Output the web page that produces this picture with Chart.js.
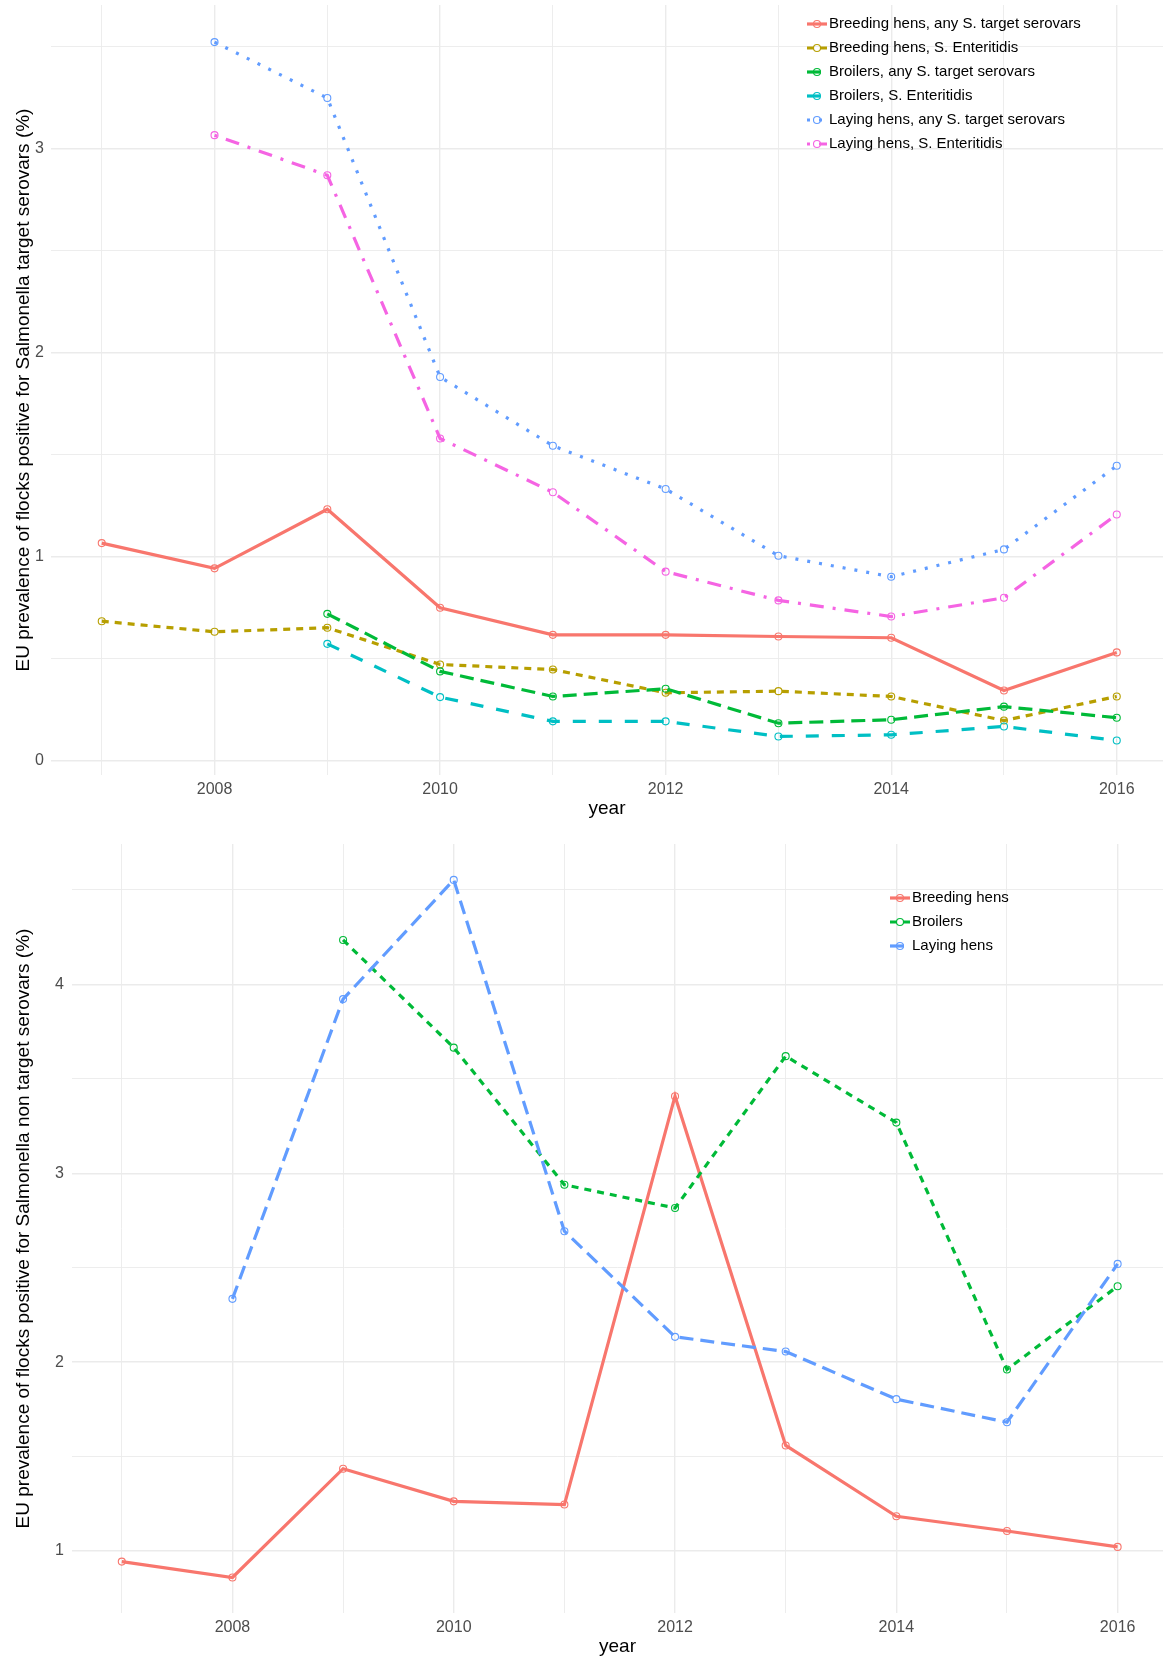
<!DOCTYPE html>
<html lang="en">
<head>
<meta charset="UTF-8" />
<title>EU prevalence of Salmonella in poultry flocks</title>
<script src="https://cdn.jsdelivr.net/npm/chart.js@4.4.1/dist/chart.umd.min.js"></script>
<style>
  html, body { margin: 0; padding: 0; background: #fff; overflow: hidden; }
  canvas { display: block; }
</style>
</head>
<body>
<canvas id="targetChart" width="1163" height="820"></canvas>
<canvas id="nonTargetChart" width="1163" height="838"></canvas>
<script>
// years on the x axis, even ones get a label
var years = [2007, 2008, 2009, 2010, 2011, 2012, 2013, 2014, 2015, 2016];
var yearLabels = ["", "2008", "", "2010", "", "2012", "", "2014", "", "2016"];

// top panel: target serovars (%)
var targetNames = [
  "Breeding hens, any S. target serovars",
  "Breeding hens, S. Enteritidis",
  "Broilers, any S. target serovars",
  "Broilers, S. Enteritidis",
  "Laying hens, any S. target serovars",
  "Laying hens, S. Enteritidis"
];
var breedingAnyTarget = [1.067, 0.943, 1.233, 0.750, 0.617, 0.617, 0.609, 0.603, 0.344, 0.531];
var breedingEnteritidis = [0.684, 0.632, 0.652, 0.472, 0.447, 0.333, 0.341, 0.315, 0.197, 0.315];
var broilersAnyTarget = [null, null, 0.720, 0.438, 0.315, 0.353, 0.184, 0.201, 0.265, 0.211];
var broilersEnteritidis = [null, null, 0.573, 0.312, 0.193, 0.193, 0.119, 0.127, 0.168, 0.099];
var layingAnyTarget = [null, 3.523, 3.249, 1.881, 1.544, 1.332, 1.005, 0.902, 1.036, 1.446];
var layingEnteritidis = [null, 3.067, 2.870, 1.580, 1.316, 0.927, 0.786, 0.707, 0.799, 1.207];
var targetTicks = [0, 0.5, 1, 1.5, 2, 2.5, 3, 3.5];

// bottom panel: non target serovars (%)
var nonTargetNames = ["Breeding hens", "Broilers", "Laying hens"];
var breedingNonTarget = [0.944, 0.860, 1.436, 1.263, 1.246, 3.408, 1.559, 1.184, 1.106, 1.022];
var broilersNonTarget = [null, null, 4.235, 3.665, 2.939, 2.816, 3.620, 3.268, 1.961, 2.402];
var layingNonTarget = [null, 2.335, 3.922, 4.553, 2.693, 2.134, 2.056, 1.804, 1.682, 2.520];
var nonTargetTicks = [1, 1.5, 2, 2.5, 3, 3.5, 4, 4.5];

var font = "'Liberation Sans', Arial, sans-serif";
Chart.defaults.font.family = font;

// ggplot default hues + linetypes
var hue6 = ["#F8766D", "#B79F00", "#00BA38", "#00BFC4", "#619CFF", "#F564E3"];
var hue3 = ["#F8766D", "#00BA38", "#619CFF"];
var dashes = [[], [7, 6], [14, 7], [13, 13], [3, 9], [3, 9, 14, 9]];

// draws the legend inside the plot, like ggplot does
var ggLegend = {
  id: "ggLegend",
  afterDraw: function (chart, args, opts) {
    var ctx = chart.ctx;
    ctx.save();
    ctx.font = "15px " + font;
    ctx.textBaseline = "middle";
    chart.data.datasets.forEach(function (ds, i) {
      var y = opts.y + i * opts.rowH;
      ctx.strokeStyle = ds.borderColor;
      ctx.lineWidth = ds.borderWidth;
      ctx.setLineDash(ds.borderDash);
      ctx.beginPath();
      ctx.moveTo(opts.x, y);
      ctx.lineTo(opts.x + 20, y);
      ctx.stroke();
      ctx.setLineDash([]);
      ctx.lineWidth = 1.1;
      ctx.beginPath();
      ctx.arc(opts.x + 10, y, 3.5, 0, Math.PI * 2);
      ctx.stroke();
      ctx.fillStyle = "#000";
      ctx.fillText(ds.label, opts.x + 22, y);
    });
    ctx.restore();
  }
};

function makeChart(id, names, series, colors, s) {
  var datasets = series.map(function (vals, i) {
    var pts = [];
    vals.forEach(function (v, j) {
      if (v !== null) pts.push({ x: years[j], y: v });
    });
    return {
      label: names[i],
      data: pts,
      borderColor: colors[i],
      borderWidth: 3.2,
      borderDash: dashes[i],
      pointRadius: 3.5,
      pointBorderWidth: 1.1,
      pointBorderColor: colors[i],
      pointBackgroundColor: "rgba(0,0,0,0)",
      tension: 0,
      order: series.length - i
    };
  });

  return new Chart(document.getElementById(id), {
    type: "line",
    data: { datasets: datasets },
    plugins: [ggLegend],
    options: {
      responsive: false,
      animation: false,
      layout: { autoPadding: false, padding: { top: s.padTop, left: 0, right: 0, bottom: 0 } },
      plugins: {
        legend: { display: false },
        tooltip: { enabled: false },
        ggLegend: s.legend
      },
      scales: {
        x: {
          type: "linear",
          min: 2006.55,
          max: 2016.41,
          afterBuildTicks: function (sc) {
            sc.ticks = years.map(function (v) { return { value: v }; });
          },
          afterFit: function (sc) {
            sc.height = 45;
            sc.paddingLeft = 0;
            sc.paddingRight = 0;
          },
          grid: {
            color: "#EBEBEB",
            drawTicks: false,
            lineWidth: function (c) { return c.tick && c.tick.value % 2 === 0 ? 1.4 : 0.9; }
          },
          border: { display: false },
          ticks: {
            padding: 5,
            color: "#4D4D4D",
            font: { size: 16 },
            maxRotation: 0,
            autoSkip: false,
            callback: function (v) { return yearLabels[years.indexOf(v)]; }
          },
          title: {
            display: true,
            text: "year",
            color: "#000",
            font: { size: 19 },
            padding: { top: 0, bottom: 0 }
          }
        },
        y: {
          min: s.yMin,
          max: s.yMax,
          afterBuildTicks: function (sc) {
            sc.ticks = s.ticks.map(function (v) { return { value: v }; });
          },
          afterFit: function (sc) {
            sc.width = s.axisW;
            sc.paddingTop = 0;
            sc.paddingBottom = 0;
          },
          grid: {
            color: "#EBEBEB",
            drawTicks: false,
            lineWidth: function (c) { return c.tick && Number.isInteger(c.tick.value) ? 1.4 : 0.9; }
          },
          border: { display: false },
          ticks: {
            padding: s.tickPad,
            color: "#4D4D4D",
            font: { size: 16 },
            callback: function (v) { return Number.isInteger(v) ? String(v) : ""; }
          },
          title: {
            display: true,
            text: s.title,
            color: "#000",
            font: { size: 19 },
            padding: { top: 12, bottom: 0 }
          }
        }
      }
    }
  });
}

makeChart("targetChart", targetNames,
  [breedingAnyTarget, breedingEnteritidis, broilersAnyTarget, broilersEnteritidis, layingAnyTarget, layingEnteritidis],
  hue6, {
    padTop: 5, yMin: -0.07, yMax: 3.705, ticks: targetTicks, axisW: 51, tickPad: 7,
    title: "EU prevalence of flocks positive for Salmonella target serovars (%)",
    legend: { x: 807, y: 24, rowH: 24 }
  });

makeChart("nonTargetChart", nonTargetNames,
  [breedingNonTarget, broilersNonTarget, layingNonTarget],
  hue3, {
    padTop: 24, yMin: 0.672, yMax: 4.743, ticks: nonTargetTicks, axisW: 72, tickPad: 8,
    title: "EU prevalence of flocks positive for Salmonella non target serovars (%)",
    legend: { x: 890, y: 78, rowH: 24 }
  });
</script>
</body>
</html>
